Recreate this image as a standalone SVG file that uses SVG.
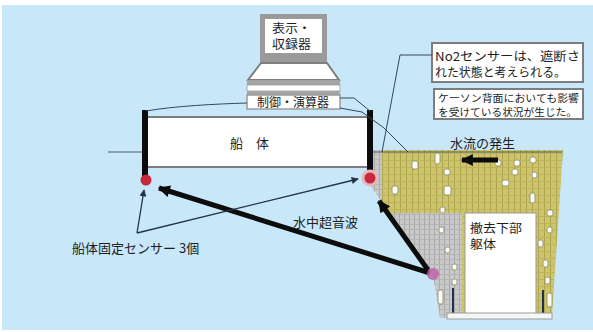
<svg xmlns="http://www.w3.org/2000/svg" width="593" height="332" viewBox="0 0 593 332">
  <style>
    .jp { font-family: "Noto Sans CJK JP", "Noto Sans", sans-serif; fill: #1e1e1e; }
    .frame { fill: #ffffff; stroke: #7d7d7d; stroke-width: 2; }
    .cable { fill: none; stroke: #34475e; stroke-width: 1; }
    .thick { fill: none; stroke: #0c0c0c; stroke-width: 5; }
    .thin { fill: none; stroke: #243448; stroke-width: 1.3; }
    .pebble { fill: #fbfbf2; stroke: #8a8a70; stroke-width: 0.8; }
  </style>
  <defs>
    <pattern id="soil" width="6" height="7" patternUnits="userSpaceOnUse">
      <rect width="6" height="7" fill="#cdc46c"/>
      <rect x="4" width="1" height="7" fill="#ada54c"/>
      <rect y="6" width="6" height="1" fill="#bdb55e"/>
    </pattern>
    <pattern id="rubble" width="5" height="5" patternUnits="userSpaceOnUse">
      <rect width="5" height="5" fill="#c9c9c9"/>
      <rect x="4" width="1" height="5" fill="#a9a9a9"/>
      <rect y="4" width="5" height="1" fill="#b5b5b5"/>
    </pattern>
    <marker id="headThick" viewBox="0 0 10 10" refX="9" refY="5" markerUnits="userSpaceOnUse" markerWidth="14" markerHeight="12" orient="auto">
      <path d="M0,0 L10,5 L0,10 z" fill="#0c0c0c"/>
    </marker>
    <marker id="headThin" viewBox="0 0 10 10" refX="9" refY="5" markerUnits="userSpaceOnUse" markerWidth="8" markerHeight="7" orient="auto">
      <path d="M0,0 L10,5 L0,10 z" fill="#243448"/>
    </marker>
  </defs>

  <!-- sea background -->
  <rect width="593" height="332" fill="#ffffff"/>
  <rect x="2" y="5" width="591" height="325" fill="#c8e8f9"/>

  <!-- backfill behind the caisson -->
  <g id="backfill">
    <polygon points="382,150 563,150 552,316 462,316 462,213 382,213" fill="url(#soil)"/>
    <polygon points="372,150 382,150 382,213 462,213 462,318 440,318 433,275 370,185" fill="url(#rubble)"/>
    <g class="pebble">
      <rect x="412" y="161" width="6" height="8" rx="2"/>
      <rect x="435" y="153" width="5" height="11" rx="2"/>
      <rect x="444" y="169" width="6" height="6" rx="2"/>
      <rect x="392" y="186" width="6" height="8" rx="2"/>
      <rect x="444" y="186" width="7" height="9" rx="2"/>
      <rect x="495" y="160" width="6" height="6" rx="2"/>
      <rect x="514" y="160" width="6" height="6" rx="2"/>
      <rect x="512" y="169" width="6" height="6" rx="2"/>
      <rect x="530" y="157" width="6" height="6" rx="2"/>
      <rect x="532" y="172" width="5" height="6" rx="2"/>
      <rect x="502" y="180" width="7" height="6" rx="2"/>
      <rect x="530" y="193" width="5" height="10" rx="2"/>
      <rect x="547" y="210" width="6" height="6" rx="2"/>
      <rect x="547" y="227" width="5" height="6" rx="2"/>
      <rect x="538" y="240" width="5" height="7" rx="2"/>
      <rect x="543" y="260" width="5" height="7" rx="2"/>
      <rect x="545" y="277" width="5" height="7" rx="2"/>
      <rect x="440" y="207" width="5" height="6" rx="2"/>
      <rect x="439" y="227" width="5" height="6" rx="2"/>
      <rect x="445" y="247" width="5" height="6" rx="2"/>
      <rect x="452" y="264" width="5" height="6" rx="2"/>
      <rect x="452" y="279" width="5" height="6" rx="2"/>
      <rect x="438" y="290" width="5" height="14" rx="2"/>
      <rect x="547" y="293" width="5" height="14" rx="2"/>
    </g>
  </g>

  <!-- removed lower body of the caisson -->
  <g id="caisson">
    <rect x="465" y="213" width="71" height="101" fill="#ffffff" stroke="#9a9a9a" stroke-width="1"/>
    <line x1="453" y1="288" x2="453" y2="314" stroke="#1f3150" stroke-width="2"/>
    <line x1="543" y1="290" x2="543" y2="314" stroke="#1f3150" stroke-width="2"/>
    <rect x="447" y="313" width="105" height="6" fill="#f6f6f6" stroke="#9a9a9a" stroke-width="1"/>
    <text class="jp" x="470" y="233" font-size="12" textLength="52" lengthAdjust="spacingAndGlyphs">撤去下部</text>
    <text class="jp" x="470" y="249" font-size="12" textLength="26" lengthAdjust="spacingAndGlyphs">躯体</text>
  </g>

  <!-- waterline -->
  <line x1="108" y1="152" x2="562" y2="152" stroke="#4e5a66" stroke-width="1"/>

  <!-- display / recorder -->
  <g id="display">
    <rect x="260" y="14" width="67" height="48" fill="#9a9a9a"/>
    <rect x="265" y="19" width="57" height="34" fill="#ffffff"/>
    <polygon points="261,63 327,63 339,80 248,80" class="frame" stroke-width="1.2"/>
    <rect x="247" y="80" width="93" height="5" fill="#a5a5a5"/>
    <rect x="247" y="85" width="93" height="6" fill="#ffffff" stroke="#9a9a9a" stroke-width="0.8"/>
    <rect x="247" y="91" width="93" height="4" fill="#a5a5a5"/>
    <text class="jp" x="272" y="33" font-size="12" textLength="39" lengthAdjust="spacingAndGlyphs">表示・</text>
    <text class="jp" x="272" y="49" font-size="12" textLength="39" lengthAdjust="spacingAndGlyphs">収録器</text>
  </g>

  <!-- control / processing unit -->
  <g id="controller">
    <rect x="247" y="95" width="93" height="14" fill="#ffffff" stroke="#9a9a9a" stroke-width="1.5"/>
    <text class="jp" x="257" y="107" font-size="12">制御・演算器</text>
  </g>

  <!-- hull -->
  <g id="hull">
    <rect x="147" y="117" width="222" height="50" class="frame"/>
    <text class="jp" x="230" y="148" font-size="13">船　体</text>
    <rect x="142" y="110" width="6" height="72" fill="#0c0c0c"/>
    <rect x="367" y="110" width="6" height="72" fill="#0c0c0c"/>
  </g>

  <!-- callout boxes -->
  <g id="note-no2">
    <rect x="432" y="43" width="151" height="39" class="frame"/>
    <text class="jp" x="435" y="61" font-size="12" textLength="145" lengthAdjust="spacingAndGlyphs">No2センサーは、遮断さ</text>
    <text class="jp" x="435" y="77" font-size="12" textLength="131" lengthAdjust="spacingAndGlyphs">れた状態と考えられる。</text>
  </g>
  <g id="note-caisson">
    <rect x="434" y="89" width="149" height="30" class="frame"/>
    <text class="jp" x="438" y="102" font-size="10" textLength="141" lengthAdjust="spacingAndGlyphs">ケーソン背面においても影響</text>
    <text class="jp" x="438" y="115.5" font-size="10" textLength="139" lengthAdjust="spacingAndGlyphs">を受けている状況が生じた。</text>
  </g>

  <!-- labels -->
  <g id="label-flow">
    <text class="jp" x="450" y="148" font-size="13">水流の発生</text>
  </g>
  <g id="label-wave">
    <text class="jp" x="293" y="227" font-size="13">水中超音波</text>
  </g>
  <g id="label-sensors">
    <text class="jp" x="72" y="253" font-size="13">船体固定センサー 3個</text>
  </g>

  <!-- connectors -->
  <g id="connectors">
    <path class="cable" d="M247,103 C215,104 175,106 146,111"/>
    <path class="cable" d="M340,98 L354,98 L370,111"/>
    <path class="cable" d="M340,108 L362,112 L384,128 L408,152"/>
    <path class="cable" d="M432,55 L400,55 L382,152"/>
    <line class="thick" x1="430" y1="273" x2="159" y2="188" marker-end="url(#headThick)"/>
    <line class="thick" x1="428" y1="270" x2="379" y2="201" marker-end="url(#headThick)"/>
    <line class="thick" x1="498" y1="160" x2="462" y2="160" marker-end="url(#headThick)"/>
    <line class="thin" x1="137" y1="233" x2="144" y2="190" marker-end="url(#headThin)"/>
    <line class="thin" x1="137" y1="233" x2="358" y2="179" marker-end="url(#headThin)"/>
  </g>

  <!-- sensors -->
  <g id="sensor-left">
    <circle cx="146" cy="180" r="5.5" fill="#c8283c"/>
  </g>
  <g id="sensor-right">
    <circle cx="370" cy="178" r="8.5" fill="#e4b6bc"/>
    <circle cx="370" cy="178" r="5.5" fill="#c8283c"/>
  </g>
  <g id="sensor-no2">
    <circle cx="433" cy="274" r="6" fill="#c064a8" opacity="0.85"/>
  </g>
</svg>
